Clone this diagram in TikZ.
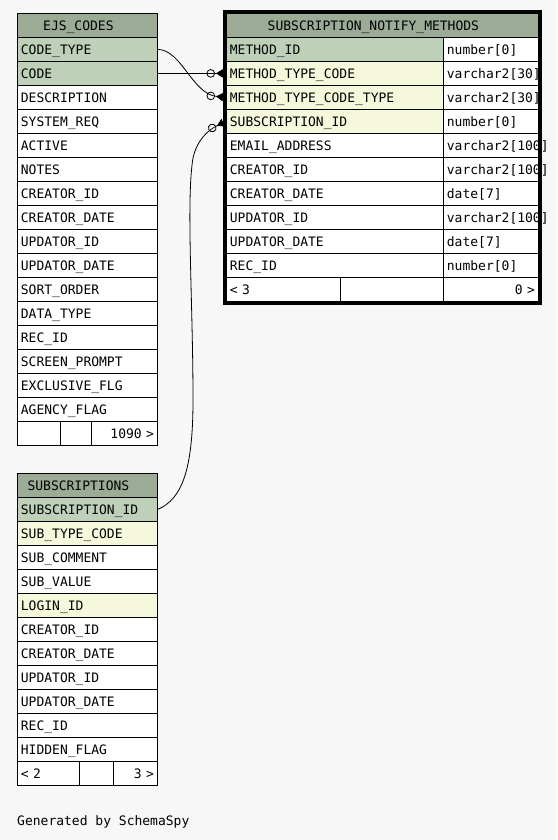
\documentclass[tikz,border=0pt]{standalone}
\usepackage{fontspec}
\newfontfamily\schemamono{DejaVu Sans Mono}
\definecolor{headgreen}{RGB}{155, 171, 150}
\definecolor{pkgreen}{RGB}{190, 209, 184}
\definecolor{fkyellow}{RGB}{245, 248, 218}
\definecolor{pagegray}{RGB}{247, 247, 247}
\usepackage{tikz}
\usetikzlibrary{arrows.meta, fit}
\newcommand{\cellfont}{\schemamono\fontsize{13pt}{15pt}\selectfont}

\begin{document}
\begin{tikzpicture}[
  x=1pt, y=-1pt,
  cell/.style={draw, anchor=north west, line width=0.8pt, fill=white, minimum height=24pt, inner xsep=3.5pt, inner ysep=0pt, text height=9.5pt, text depth=0pt, align=left, font=\cellfont},
  head/.style={cell, fill=headgreen, align=center},
  pk/.style={cell, fill=pkgreen},
  fk/.style={cell, fill=fkyellow},
  tblw/.style={text width=133pt},
  namew/.style={text width=210pt},
  typew/.style={text width=88pt},
  rel/.style={line width=0.8pt, shorten >=3pt, -{Circle[open, length=8.5pt, width=8.5pt, sep=1pt] Triangle[reversed, length=7pt, width=8.5pt]}}
]
  \useasboundingbox (0,0) rectangle (557,840);
  \fill[pagegray] (0,0) rectangle (557,840);

  % EJS_CODES
  \node[head, tblw] (ejs) at (17,13) {EJS\_CODES\hspace*{18pt}\null};
  \node[pk, tblw] (ejs-codetype) at (17,37) {CODE\_TYPE};
  \node[pk, tblw] (ejs-code) at (17,61) {CODE};
  \node[cell, tblw] (ejs-desc) at (17,85) {DESCRIPTION};
  \node[cell, tblw] (ejs-sysreq) at (17,109) {SYSTEM\_REQ};
  \node[cell, tblw] (ejs-active) at (17,133) {ACTIVE};
  \node[cell, tblw] (ejs-notes) at (17,157) {NOTES};
  \node[cell, tblw] (ejs-creatorid) at (17,181) {CREATOR\_ID};
  \node[cell, tblw] (ejs-creatordate) at (17,205) {CREATOR\_DATE};
  \node[cell, tblw] (ejs-updatorid) at (17,229) {UPDATOR\_ID};
  \node[cell, tblw] (ejs-updatordate) at (17,253) {UPDATOR\_DATE};
  \node[cell, tblw] (ejs-sortorder) at (17,277) {SORT\_ORDER};
  \node[cell, tblw] (ejs-datatype) at (17,301) {DATA\_TYPE};
  \node[cell, tblw] (ejs-recid) at (17,325) {REC\_ID};
  \node[cell, tblw] (ejs-prompt) at (17,349) {SCREEN\_PROMPT};
  \node[cell, tblw] (ejs-exclusive) at (17,373) {EXCLUSIVE\_FLG};
  \node[cell, tblw] (ejs-agency) at (17,397) {AGENCY\_FLAG};
  \node[cell, text width=36pt] (ejs-f1) at (17,421) {};
  \node[cell, text width=24pt] (ejs-f2) at (60,421) {};
  \node[cell, text width=59pt, align=right] (ejs-f3) at (91,421) {1090 >};

  % SUBSCRIPTIONS
  \node[head, tblw] (sub) at (17,473) {SUBSCRIPTIONS\hspace*{18pt}\null};
  \node[pk, tblw] (sub-subid) at (17,497) {SUBSCRIPTION\_ID};
  \node[fk, tblw] (sub-typecode) at (17,521) {SUB\_TYPE\_CODE};
  \node[cell, tblw] (sub-comment) at (17,545) {SUB\_COMMENT};
  \node[cell, tblw] (sub-value) at (17,569) {SUB\_VALUE};
  \node[fk, tblw] (sub-loginid) at (17,593) {LOGIN\_ID};
  \node[cell, tblw] (sub-creatorid) at (17,617) {CREATOR\_ID};
  \node[cell, tblw] (sub-creatordate) at (17,641) {CREATOR\_DATE};
  \node[cell, tblw] (sub-updatorid) at (17,665) {UPDATOR\_ID};
  \node[cell, tblw] (sub-updatordate) at (17,689) {UPDATOR\_DATE};
  \node[cell, tblw] (sub-recid) at (17,713) {REC\_ID};
  \node[cell, tblw] (sub-hidden) at (17,737) {HIDDEN\_FLAG};
  \node[cell, text width=55pt] (sub-f1) at (17,761) {< 2};
  \node[cell, text width=27pt] (sub-f2) at (79,761) {};
  \node[cell, text width=37pt, align=right] (sub-f3) at (113,761) {3 >};

  % SUBSCRIPTION_NOTIFY_METHODS
  \node[head, text width=305pt] (snm) at (226,13) {SUBSCRIPTION\_NOTIFY\_METHODS\hspace*{18pt}\null};
  \node[pk, namew] (snm-methodid) at (226,37) {METHOD\_ID};
  \node[cell, typew] (snm-methodid-t) at (443,37) {number[0]};
  \node[fk, namew] (snm-mtc) at (226,61) {METHOD\_TYPE\_CODE};
  \node[cell, typew] (snm-mtc-t) at (443,61) {varchar2[30]};
  \node[fk, namew] (snm-mtct) at (226,85) {METHOD\_TYPE\_CODE\_TYPE};
  \node[cell, typew] (snm-mtct-t) at (443,85) {varchar2[30]};
  \node[fk, namew] (snm-subid) at (226,109) {SUBSCRIPTION\_ID};
  \node[cell, typew] (snm-subid-t) at (443,109) {number[0]};
  \node[cell, namew] (snm-email) at (226,133) {EMAIL\_ADDRESS};
  \node[cell, typew] (snm-email-t) at (443,133) {varchar2[100]};
  \node[cell, namew] (snm-creatorid) at (226,157) {CREATOR\_ID};
  \node[cell, typew] (snm-creatorid-t) at (443,157) {varchar2[100]};
  \node[cell, namew] (snm-creatordate) at (226,181) {CREATOR\_DATE};
  \node[cell, typew] (snm-creatordate-t) at (443,181) {date[7]};
  \node[cell, namew] (snm-updatorid) at (226,205) {UPDATOR\_ID};
  \node[cell, typew] (snm-updatorid-t) at (443,205) {varchar2[100]};
  \node[cell, namew] (snm-updatordate) at (226,229) {UPDATOR\_DATE};
  \node[cell, typew] (snm-updatordate-t) at (443,229) {date[7]};
  \node[cell, namew] (snm-recid) at (226,253) {REC\_ID};
  \node[cell, typew] (snm-recid-t) at (443,253) {number[0]};
  \node[cell, text width=107pt] (snm-f1) at (226,277) {< 3};
  \node[cell, text width=96pt] (snm-f2) at (340,277) {};
  \node[cell, typew, align=right] (snm-f3) at (443,277) {0 >};

  % relationships
  \draw[rel] (ejs-code.east) -- (snm-mtc.west);
  \draw[rel] (ejs-codetype.east) .. controls (182,50) and (192,94) .. (snm-mtct.west);
  \draw[rel] (sub-subid.east) .. controls (182,499) and (193,470) .. (193,400)
    .. controls (193,300) and (186,200) .. (193,158)
    .. controls (197,140) and (208,130) .. (snm-subid.west);

  \node[fit=(snm)(snm-f3), draw, line width=3.5pt, inner sep=1.5pt] (snm-frame) {};

  \node[anchor=west, inner sep=0pt, font=\cellfont] (credit) at (17,822) {Generated by SchemaSpy};
\end{tikzpicture}
\end{document}
